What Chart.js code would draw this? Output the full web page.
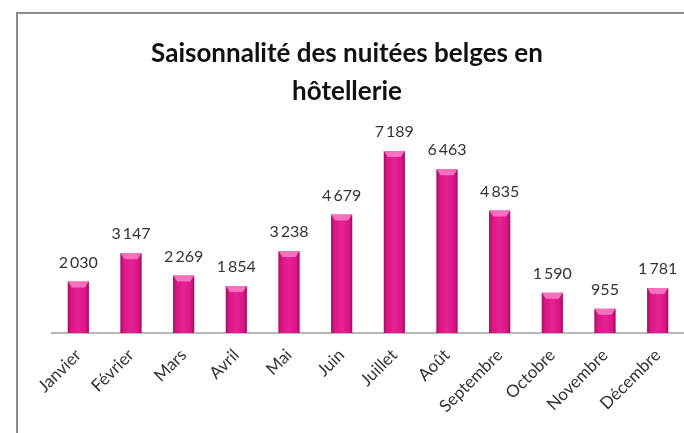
<!DOCTYPE html>
<html>
<head>
<meta charset="utf-8">
<script src="https://cdn.jsdelivr.net/npm/chart.js@4.4.0/dist/chart.umd.min.js"></script>
<style>
  html, body { margin: 0; padding: 0; background: #fff; overflow: hidden; }
  #frame { position: absolute; left: 16px; top: 12px; width: 800px; height: 600px;
           border-left: 2px solid #8c8c8c; border-top: 2px solid #8c8c8c; }
  #wrap { position: absolute; left: 10px; top: 0; width: 674px; height: 433px; }
</style>
</head>
<body>
<div id="frame"></div>
<div id="wrap"><canvas id="chartContainer1"></canvas></div>
<script>
var months = ["Janvier", "Février", "Mars", "Avril", "Mai", "Juin", "Juillet",
  "Août", "Septembre", "Octobre", "Novembre", "Décembre"];
var nights = [2030, 3147, 2269, 1854, 3238, 4679, 7189, 6463, 4835, 1590, 955, 1781];
var titleLines = ["Saisonnalité des nuitées belges en", "hôtellerie"];

var ctx1 = document.getElementById("chartContainer1").getContext("2d");

// thousands with a thin space, like the original ("7 189")
function fmt(v) {
  return String(v).replace(/\B(?=(\d{3})+(?!\d))/g, "\u2009");
}

// bevel + shading on top of each bar, then the value above it
var barLook = {
  id: "barLook",
  afterDatasetsDraw: function(chart) {
    var c = chart.ctx;
    var meta = chart.getDatasetMeta(0);
    meta.data.forEach(function(bar, i) {
      var l = bar.x - bar.width / 2, r = bar.x + bar.width / 2;
      var g = c.createLinearGradient(l, 0, r, 0);
      g.addColorStop(0, "rgba(90,0,50,0.5)");
      g.addColorStop(0.15, "rgba(90,0,50,0.05)");
      g.addColorStop(0.5, "rgba(255,255,255,0.06)");
      g.addColorStop(0.85, "rgba(90,0,50,0.05)");
      g.addColorStop(1, "rgba(90,0,50,0.5)");
      c.save();
      c.fillStyle = g;
      c.fillRect(l, bar.y, bar.width, bar.base - bar.y);
      c.beginPath();
      c.moveTo(l, bar.y);
      c.lineTo(r, bar.y);
      c.lineTo(r - 4, bar.y + 6);
      c.lineTo(l + 4, bar.y + 6);
      c.closePath();
      c.fillStyle = "rgba(255,140,205,0.75)";
      c.fill();
      c.fillStyle = "#333";
      c.font = "16px Lato";
      c.textAlign = "center";
      c.textBaseline = "bottom";
      c.fillText(fmt(nights[i]), bar.x, bar.y - 11);
      c.restore();
    });
  }
};

var myChart = new Chart(ctx1, {
  type: "bar",
  data: {
    labels: months,
    datasets: [{
      label: "Nuitées",
      data: nights,
      backgroundColor: "#E3168B",
      borderWidth: 0,
      barPercentage: 0.4,
      categoryPercentage: 1
    }]
  },
  options: {
    responsive: true,
    maintainAspectRatio: false,
    animation: false,
    layout: { padding: { left: 0, right: 0, top: 16, bottom: 0 } },
    plugins: {
      legend: { display: false },
      tooltip: { enabled: false },
      title: {
        display: true,
        text: titleLines,
        color: "#111",
        font: { family: "Lato", size: 26, weight: "bold", lineHeight: 1.45 },
        padding: { top: 19, bottom: 20 }
      }
    },
    scales: {
      x: {
        grid: { display: false },
        border: { display: true, color: "#b8b8b8", width: 2 },
        ticks: {
          color: "#333",
          font: { family: "Lato", size: 17 },
          maxRotation: 45,
          minRotation: 45,
          padding: 4
        },
        afterFit: function(scale) { scale.height = 100; }
      },
      y: {
        min: 0,
        max: 8000,
        grid: { display: false },
        border: { display: false },
        ticks: { display: false },
        afterFit: function(scale) { scale.width = 42; }
      }
    }
  },
  plugins: [barLook]
});
</script>
</body>
</html>
